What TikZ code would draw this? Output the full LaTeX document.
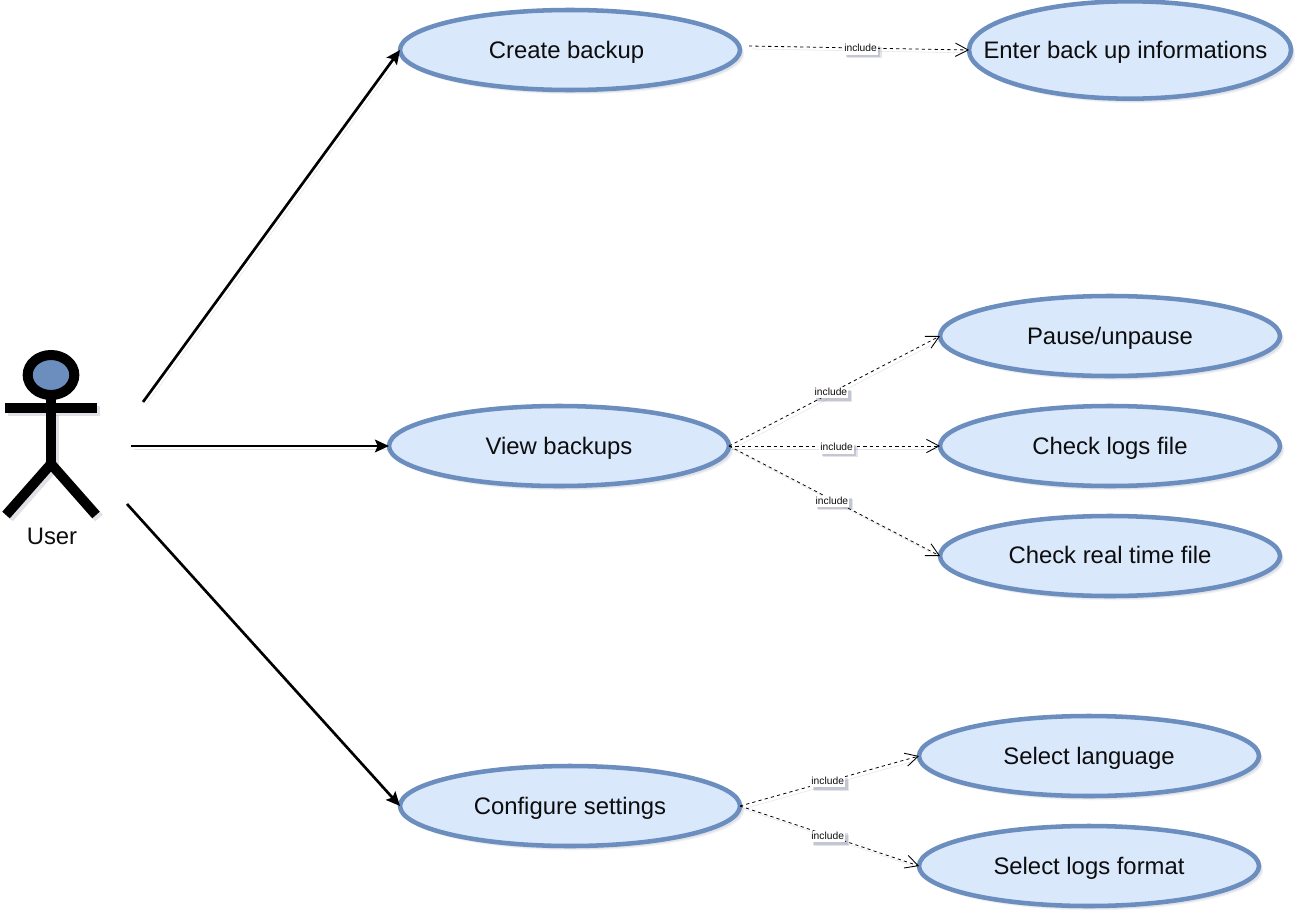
\documentclass[tikz,border=0pt]{standalone}
\usepackage{fontspec}
\setmainfont{Liberation Sans}
\usetikzlibrary{shapes.geometric,arrows.meta,shadows}
\definecolor{ucfill}{HTML}{DAE8FC}
\definecolor{ucline}{HTML}{6C8EBF}
\definecolor{shadowtint}{HTML}{3A4468}
\newcommand{\uctext}[2][0pt]{\makebox[0pt][c]{\kern#1 #2}}
\tikzset{
  softshadow/.style={
    preaction={fill=shadowtint,opacity=.07,transform canvas={shift={(3.2pt,-3.2pt)}}},
    preaction={fill=shadowtint,opacity=.09,transform canvas={shift={(2.4pt,-2.4pt)}}}},
  lineshadow/.style={preaction={draw=shadowtint,opacity=.14,arrows=-,transform canvas={shift={(2.2pt,-2.2pt)}}}},
  usecase/.style={ellipse,draw=ucline,fill=ucfill,line width=3.4pt,inner sep=0pt,outer sep=0pt,
    minimum width=255pt,minimum height=60pt,font=\fontsize{17.9pt}{20pt}\selectfont,text=black!95,
    text height=12pt,text depth=0pt,softshadow},
  lbl/.style={fill=white,inner sep=0.8pt,font=\fontsize{7.7pt}{9pt}\selectfont,text=black!95,
    text height=5.6pt,text depth=1.2pt,
    preaction={fill=shadowtint,opacity=.14,transform canvas={shift={(2.8pt,-2.8pt)}}},
    preaction={fill=shadowtint,opacity=.18,transform canvas={shift={(1.9pt,-1.9pt)}}}},
  assoc/.style={draw=black,line width=2pt,-{Stealth[length=10.5pt,width=9.5pt,inset=2pt]},lineshadow},
  incl/.style={draw=black,line width=.6pt,dash pattern=on 2.4pt off 2.4pt,
    -{Straight Barb[length=9.5pt,width=10pt,line width=.65pt]},lineshadow},
  limb/.style={draw=black,line width=7.5pt,line join=miter},
  limbshadow/.style={draw=shadowtint,opacity=.16,line width=7.5pt,line join=miter},
  x=0.75pt,y=-0.75pt
}
\begin{document}
\begin{tikzpicture}
\useasboundingbox (0,0) rectangle (1303,921);
% actor
\begin{scope}[shift={(3,3)}]
  \draw[limbshadow] (5,408) -- (97,408);
  \draw[limbshadow] (51,412) -- (51,465);
  \draw[limbshadow] (6,515) -- (51,464) -- (96,515);
\end{scope}
\draw[limb] (51,398) -- (51,465);
\draw[limb] (5,408) -- (97,408);
\draw[limb] (6,515) -- (51,464) -- (96,515);
\node[ellipse,draw=black,fill=ucline,line width=7.5pt,inner sep=0pt,outer sep=0pt,
  minimum width=35pt,minimum height=30pt] (head) at (51,375) {};
\node[font=\fontsize{17.9pt}{20pt}\selectfont,text=black!95,text height=12pt,text depth=0pt] (user) at (52,536) {User};
\coordinate (a1) at (143,402);
\coordinate (a2) at (131,446);
\coordinate (a3) at (127,504);
\coordinate (c1) at (749,46);
% use cases
\node[usecase] (create) at (570,50) {\uctext[-5.2pt]{Create backup}};
\node[usecase,minimum width=241.5pt,minimum height=73pt] (enter) at (1130,50) {\uctext[-6.8pt]{Enter back up informations}};
\node[usecase] (view) at (559,446) {\uctext{View backups}};
\node[usecase] (pause) at (1110,336) {\uctext{Pause/unpause}};
\node[usecase] (logs) at (1110,446) {\uctext{Check logs file}};
\node[usecase] (real) at (1110,556) {\raisebox{.75pt}{\uctext{Check real time file}}};
\node[usecase] (config) at (570,806) {\uctext{Configure settings}};
\node[usecase] (lang) at (1089,756) {\uctext{Select language}};
\node[usecase] (format) at (1089,866) {\uctext{Select logs format}};
% associations
\draw[assoc] (a1) -- (create.west);
\draw[assoc] (a2) -- (view.west);
\draw[assoc] (a3) -- (config.west);
% includes
\draw[incl] (c1) -- node[lbl,pos=.507,yshift=-.75pt] (l1) {include} (enter.west);
\draw[incl] (view.east) -- node[lbl,pos=.483] (l2) {include} (pause.west);
\draw[incl] (view.east) -- node[lbl,pos=.51,yshift=-1.5pt] (l3) {include} (logs.west);
\draw[incl] (view.east) -- node[lbl,pos=.483,yshift=-1.5pt,xshift=.75pt] (l4) {include} (real.west);
\draw[incl] (config.east) -- node[lbl,pos=.49] (l5) {include} (lang.west);
\draw[incl] (config.east) -- node[lbl,pos=.49,yshift=-.75pt] (l6) {include} (format.west);
\end{tikzpicture}
\end{document}
